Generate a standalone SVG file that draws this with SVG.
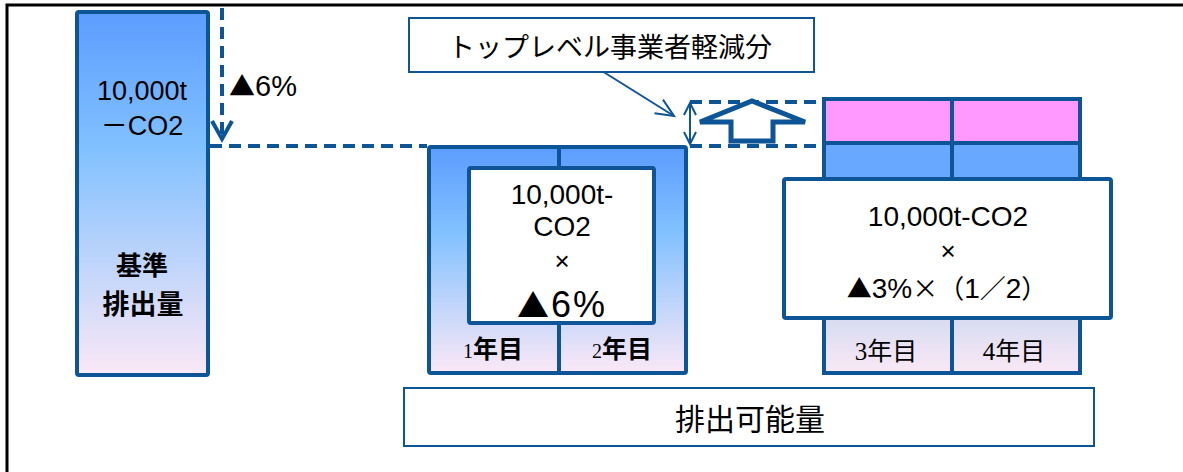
<svg xmlns="http://www.w3.org/2000/svg" width="1183" height="472" viewBox="0 0 1183 472">
<style>
.box{stroke:#0E5597;stroke-width:4;}
.thin{fill:#fff;stroke:#0E5597;stroke-width:2;}
.dash{fill:none;stroke:#0E5597;stroke-width:4;stroke-dasharray:12 7;}
.jp{font-family:"Noto Sans CJK JP",sans-serif;fill:#000;text-anchor:middle;}
.lat{font-family:"Liberation Sans","Noto Sans CJK JP",sans-serif;fill:#000;text-anchor:middle;}
.start{text-anchor:start;}
.cjk{font-family:"Noto Sans CJK JP",sans-serif;}
.num{font-family:"Liberation Serif",serif;}
</style>
<defs>
<linearGradient id="gBlue" x1="0" y1="0" x2="0" y2="1">
<stop offset="0" stop-color="#5C9CFF"/>
<stop offset="0.38" stop-color="#82C1FF"/>
<stop offset="1" stop-color="#FBE8F6"/>
</linearGradient>
<linearGradient id="gLav" x1="0" y1="0" x2="0" y2="1">
<stop offset="0" stop-color="#D6DCF0"/>
<stop offset="1" stop-color="#FAE8F6"/>
</linearGradient>
<marker id="vBig" markerUnits="userSpaceOnUse" markerWidth="30" markerHeight="30" viewBox="-20 -15 30 30" refX="0" refY="0" orient="auto" overflow="visible">
<path d="M-18,-10 L0,0 L-18,10" fill="none" stroke="#0E5597" stroke-width="4"/>
</marker>
<marker id="vSmall" markerUnits="userSpaceOnUse" markerWidth="24" markerHeight="24" viewBox="-20 -12 24 24" refX="0" refY="0" orient="auto-start-reverse" overflow="visible">
<path d="M-12,-6 L0,0 L-12,6" fill="none" stroke="#0E5597" stroke-width="2"/>
</marker>
<marker id="vCall" markerUnits="userSpaceOnUse" markerWidth="24" markerHeight="24" viewBox="-20 -12 24 24" refX="0" refY="0" orient="auto" overflow="visible">
<path d="M-18,-8 L0,0 L-18,8" fill="none" stroke="#0E5597" stroke-width="2"/>
</marker>
</defs>
<rect x="0" y="0" width="1183" height="472" fill="#fff"/>
<rect x="7" y="5" width="1200" height="500" fill="none" stroke="#000" stroke-width="3"/>

<g id="connectors">
<line x1="222" y1="8" x2="222" y2="139" class="dash" marker-end="url(#vBig)"/>
<line x1="210" y1="146" x2="427" y2="146" class="dash"/>
<line x1="690" y1="102" x2="822" y2="102" class="dash"/>
<line x1="690" y1="146" x2="822" y2="146" class="dash"/>
<line x1="602" y1="71" x2="674" y2="116" stroke="#0E5597" stroke-width="2" marker-end="url(#vCall)"/>
<line x1="690" y1="103" x2="690" y2="144" stroke="#0E5597" stroke-width="2" marker-start="url(#vSmall)" marker-end="url(#vSmall)"/>
<path d="M700,122 L752,101 L805,122 L773,122 L773,141 L731,141 L731,122 Z" fill="#fff" stroke="#0E5597" stroke-width="5" stroke-linejoin="miter"/>
</g>

<g id="base">
<rect x="77" y="12" width="131" height="363" rx="2" fill="url(#gBlue)" class="box"/>
<text x="142" y="100" class="lat" font-size="27">10,000t</text>
<text x="142" y="135" class="lat" font-size="27">－CO2</text>
<text x="142" y="275" class="jp" font-size="26" font-weight="bold">基準</text>
<text x="143" y="314" class="jp" font-size="27" font-weight="bold">排出量</text>
</g>

<g id="reduction-label">
<text x="229" y="96" class="lat start" font-size="29"><tspan class="cjk" font-size="26">▲</tspan>6%</text>
</g>

<g id="callout">
<rect x="409" y="18" width="405" height="54" class="thin"/>
<text x="610" y="57" class="jp" font-size="27">トップレベル事業者軽減分</text>
</g>

<g id="years12">
<rect x="429" y="147" width="257" height="226" rx="2" fill="url(#gBlue)" class="box"/>
<line x1="559" y1="147" x2="559" y2="168" class="box"/>
<line x1="559" y1="323" x2="559" y2="373" class="box"/>
<rect x="469" y="168" width="185" height="155" rx="2" fill="#fff" class="box"/>
<text x="562" y="204" class="lat" font-size="28">10,000t-</text>
<text x="562" y="236" class="lat" font-size="28">CO2</text>
<text x="562" y="270" class="lat" font-size="26">×</text>
<text x="562" y="317" class="lat" font-size="36" letter-spacing="2"><tspan class="cjk" font-size="32">▲</tspan>6%</text>
<text x="493" y="358" class="jp" font-size="25" font-weight="bold"><tspan class="num" font-size="20" font-weight="normal">1</tspan>年目</text>
<text x="622" y="358" class="jp" font-size="25" font-weight="bold"><tspan class="num" font-size="20" font-weight="normal">2</tspan>年目</text>
</g>

<g id="years34">
<rect x="824" y="99" width="256" height="44" fill="#FF99FF" class="box"/>
<line x1="952" y1="99" x2="952" y2="143" class="box"/>
<rect x="824" y="143" width="256" height="36" fill="#68A9FF" class="box"/>
<line x1="952" y1="143" x2="952" y2="179" class="box"/>
<rect x="824" y="318" width="256" height="55" fill="url(#gLav)" class="box"/>
<line x1="952" y1="318" x2="952" y2="373" class="box"/>
<rect x="784" y="179" width="327" height="139" rx="2" fill="#fff" class="box"/>
<text x="948" y="226" class="lat" font-size="28">10,000t-CO2</text>
<text x="948" y="260" class="lat" font-size="26">×</text>
<text x="947" y="298" class="lat" font-size="28"><tspan class="cjk" font-size="25">▲</tspan>3%<tspan class="cjk" font-size="26">×（</tspan>1<tspan class="cjk" font-size="26">／</tspan>2<tspan class="cjk" font-size="26">）</tspan></text>
<text x="886" y="360" class="jp" font-size="25"><tspan class="num" font-size="25">3</tspan>年目</text>
<text x="1014" y="360" class="jp" font-size="25"><tspan class="num" font-size="25">4</tspan>年目</text>
</g>

<g id="total">
<rect x="404" y="388" width="690" height="58" class="thin"/>
<text x="750" y="430" class="jp" font-size="30">排出可能量</text>
</g>
</svg>
